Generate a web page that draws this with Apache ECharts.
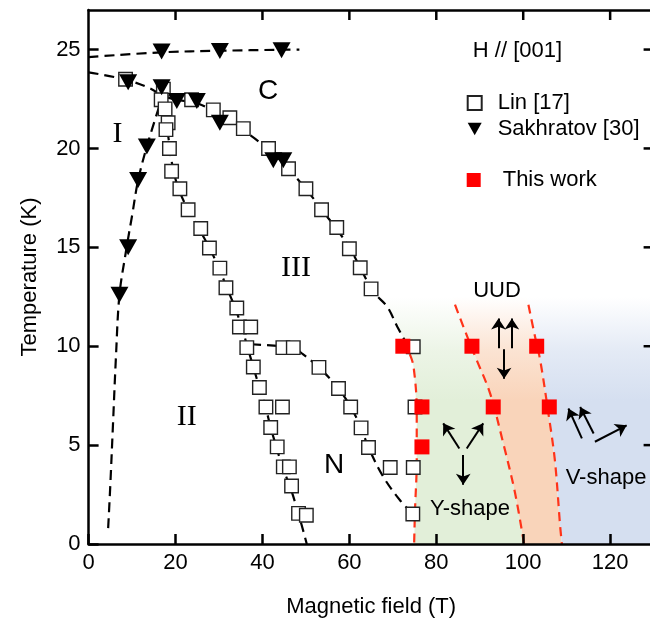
<!DOCTYPE html>
<html>
<head>
<meta charset="utf-8">
<script src="https://cdn.jsdelivr.net/npm/echarts@6/dist/echarts.min.js"></script>
<style>html,body{margin:0;padding:0;background:#fff;}#c{width:650px;height:625px;}</style>
</head>
<body>
<div id="c"></div>
<script>
// ---- data: [field (T), temperature (K)] ----
const linPoints = [
  [8.5,23.5],[17.2,23.0],[16.7,22.46],[23.7,22.46],[17.6,22.0],[28.7,21.95],[18.3,21.3],[32.5,21.55],
  [17.8,20.95],[35.6,21.0],[18.6,20.0],[41.4,20.0],[19.1,18.85],[46.0,18.97],[21.0,17.96],[50.0,17.96],
  [22.9,16.9],[53.6,16.9],[25.8,15.95],[57.1,16.0],[27.8,14.97],[60.0,14.93],[30.2,13.95],[62.5,13.97],
  [31.6,12.96],[65.0,12.9],[34.1,11.93],[34.7,10.97],[37.3,10.97],[36.4,9.93],[44.7,9.93],[47.1,9.93],
  [74.7,9.97],[37.9,8.95],[53.0,8.93],[39.3,7.91],[57.5,7.86],[40.8,6.93],[44.6,6.93],[60.3,6.93],
  [75.1,6.93],[41.9,5.89],[62.7,5.87],[43.4,4.91],[64.4,4.88],[44.8,3.9],[46.2,3.9],[69.4,3.87],
  [74.7,3.87],[46.7,2.93],[48.3,1.55],[50.1,1.45],[74.6,1.52]
];
const sakhratovPoints = [
  [16.8,24.9],[30.2,24.93],[44.4,24.97],
  [9.1,23.35],[16.8,23.1],[20.3,22.4],[24.9,22.4],[30.2,21.3],
  [13.4,20.1],[11.4,18.4],[42.5,19.4],[44.8,19.4],[9.1,15.0],[7.1,12.6]
];
const thisWorkPoints = [
  [72.3,10.0],[88.2,10.0],[103.1,10.0],[76.7,6.93],[93.1,6.93],[106.0,6.93],[76.7,4.91]
];

// ---- mirrored tick values on the top and right frame ----
const topTickValues = [20, 40, 60, 80, 100, 120];
const rightTickValues = [5, 10, 15, 20, 25];

// ---- phase boundaries ----
const lineTop = [[0,24.62],[16.8,24.86],[30.2,24.94],[44.4,24.99],[48.5,25.0]];
const lineCIII = [[0,23.85],[8.5,23.48],[14,23.05],[17.5,22.62],[22,22.4],[26,22.2],[30,21.7],[35,21.0],
  [40,20.2],[45,19.2],[50,17.95],[54,16.8],[57.5,15.8],[60.5,14.8],[63,13.75],[65.5,12.75],[68.7,12.0],[71,11.0],[73.5,10.0]];
const lineI = [[4.5,0.8],[5.0,3.0],[5.6,6.0],[6.3,9.5],[7.1,12.6],[8.6,14.8],[10.0,16.6],[11.4,18.4],[13.4,20.1],[16.5,22.3]];
const lineII = [[16.7,22.5],[17.6,21.8],[18.4,20.5],[19.4,19.0],[20.8,17.9],[22.9,16.9],[25.5,15.9],[27.8,14.97],
  [30.0,13.95],[31.8,12.96],[33.6,12.0],[35.2,11.0],[36.5,10.0],[37.9,8.95],[39.3,7.91],[40.7,6.93],[41.9,5.89],
  [43.2,4.91],[44.6,3.9],[46.3,2.93],[48.2,1.6],[50.2,0.0]];
const lineN = [[37.4,10.1],[44.7,10.0],[47.1,9.93],[49.3,9.6],[53,8.93],[57.5,7.86],[60.3,6.93],[62.7,5.87],
  [64.4,4.88],[67.8,3.4],[71.7,2.2],[74.6,1.52]];
const redLine1 = [[73.9,9.6],[74.75,9.0],[75.5,6.8],[75.5,4.2],[75.1,1.7],[74.9,0]];
const redLine2 = [[84.3,12.1],[87.8,10.1],[89.3,9.3],[92.4,7.6],[95.4,5.1],[98.1,2.6],[100.2,0]];
const redLine3 = [[101.2,12.1],[102.7,10.5],[103.9,9.3],[105.8,6.6],[107.3,4.2],[108.5,0.9],[108.9,0]];

// ---- shaded phase regions ----
const yShapeRegion = [[67,12.5],[68.7,12.0],[71,11.0],[73.5,10.0],[74.75,9.0],[75.5,6.8],[75.5,4.2],[75.1,1.7],[74.9,0],
  [100.2,0],[98.1,2.6],[95.4,5.1],[92.4,7.6],[89.3,9.3],[87.8,10.1],[84.3,12.1],[83.6,12.5]];
const uudRegion = [[83.6,12.5],[84.3,12.1],[87.8,10.1],[89.3,9.3],[92.4,7.6],[95.4,5.1],[98.1,2.6],[100.2,0],
  [108.9,0],[108.5,0.9],[107.3,4.2],[105.8,6.6],[103.9,9.3],[102.7,10.5],[101.2,12.1],[100.9,12.5]];
const vShapeRegion = [[100.9,12.5],[101.2,12.1],[102.7,10.5],[103.9,9.3],[105.8,6.6],[107.3,4.2],[108.5,0.9],[108.9,0],
  [130,0],[130,12.5]];

// ---- spin arrows [from, to] ----
const spinArrows = [
  [[85.3,4.83],[81.6,6.1]],[[87.0,4.83],[90.8,6.1]],[[86.2,4.5],[86.2,3.0]],
  [[94.3,9.9],[94.3,11.4]],[[97.4,9.9],[97.4,11.4]],[[95.6,9.85],[95.6,8.35]],
  [[113.5,5.34],[110.4,6.85]],[[116.2,5.59],[113.1,6.93]],[[116.5,5.17],[123.8,6.0]]
];

const X_MAX = 130, Y_MAX = 27;
const SANS = 'Liberation Sans, Arial, sans-serif';
const SERIF = 'Liberation Serif, Times New Roman, serif';

const chart = echarts.init(document.getElementById('c'), null, {renderer:'canvas'});

function region(pts, r, g, b) {
  return {
    type:'custom', coordinateSystem:'cartesian2d', z:1, silent:true,
    data:[[0,0]],
    renderItem: function(params, api) {
      return {
        type:'polygon',
        shape:{points: pts.map(p => api.coord(p))},
        style:{fill: new echarts.graphic.LinearGradient(0,0,0,1,[
          {offset:0, color:`rgba(${r},${g},${b},0)`},
          {offset:0.22, color:`rgba(${r},${g},${b},0.65)`},
          {offset:0.42, color:`rgba(${r},${g},${b},1)`},
          {offset:1, color:`rgba(${r},${g},${b},1)`}
        ])}
      };
    }
  };
}
function dashed(data, color, dash) {
  return {type:'line', data:data, smooth:0.35, symbol:'none', z:3, silent:true,
    lineStyle:{color:color, width:2.2, type:dash}};
}

function axisLine() { return {show:true, onZero:false, lineStyle:{color:'#000', width:2.5}}; }
function axisTick() { return {show:true, inside:true, length:10, lineStyle:{color:'#000', width:2.5}}; }

chart.setOption({
  animation:false,
  backgroundColor:'#fff',
  grid:{left:88.6, top:10, width:565, height:534, containLabel:false, outerBoundsMode:'none'},
  xAxis:[
    {type:'value', min:0, max:X_MAX, interval:20, position:'bottom', z:10,
     axisLine:axisLine(), axisTick:axisTick(), splitLine:{show:false},
     axisLabel:{color:'#000', fontSize:22, fontFamily:SANS, margin:8, showMaxLabel:false},
     name:'Magnetic field (T)', nameLocation:'middle', nameGap:52,
     nameTextStyle:{color:'#000', fontSize:22, fontFamily:SANS}},
    {type:'value', min:0, max:X_MAX, interval:20, position:'top', z:10,
     axisLine:axisLine(), axisTick:{show:false}, splitLine:{show:false}, axisLabel:{show:false}}
  ],
  yAxis:[
    {type:'value', min:0, max:Y_MAX, interval:5, position:'left', z:10,
     axisLine:axisLine(), axisTick:axisTick(), splitLine:{show:false},
     axisLabel:{color:'#000', fontSize:22, fontFamily:SANS, margin:8, showMaxLabel:false},
     name:'Temperature (K)', nameLocation:'middle', nameGap:48, nameRotate:90,
     nameTextStyle:{color:'#000', fontSize:22, fontFamily:SANS}},
    {type:'value', min:0, max:Y_MAX, interval:5, position:'right', z:10,
     axisLine:axisLine(), axisTick:{show:false}, splitLine:{show:false}, axisLabel:{show:false}}
  ],
  legend:[
    {orient:'vertical', left:461.7, top:87, itemWidth:14, itemHeight:14, itemGap:4, symbolRotate:0,
     textStyle:{fontSize:22, fontFamily:SANS, color:'#000', lineHeight:22, padding:[0,0,0,11]},
     data:[{name:'Lin [17]', icon:'rect'}, {name:'Sakhratov [30]', icon:'path://M0,0L20,0L10,18Z'}]},
    {orient:'vertical', left:461.7, top:164, itemWidth:14, itemHeight:14, symbolRotate:0,
     textStyle:{fontSize:22, fontFamily:SANS, color:'#000', lineHeight:22, padding:[0,0,0,17]},
     data:[{name:'This work', icon:'rect'}]}
  ],
  series:[
    region(yShapeRegion, 226,239,217),
    region(uudRegion, 249,212,186),
    region(vShapeRegion, 213,223,240),
    dashed(lineTop, '#000', [10,6]),
    dashed(lineCIII, '#000', [10,6]),
    dashed(lineI, '#000', [10,6]),
    dashed(lineII, '#000', [10,6]),
    dashed(lineN, '#000', [10,6]),
    dashed(redLine1, '#ff3319', [9,6]),
    dashed(redLine2, '#ff3319', [9,6]),
    dashed(redLine3, '#ff3319', [9,6]),
    {type:'lines', coordinateSystem:'cartesian2d', z:4, silent:true, symbol:['none','arrow'], symbolSize:11,
     lineStyle:{color:'#000', width:2, opacity:1, curveness:0},
     data: spinArrows.map(a => ({coords:a}))},
    {name:'Lin [17]', type:'scatter', z:5, data:linPoints, symbol:'rect', symbolSize:13.5,
     itemStyle:{color:'#fff', borderColor:'#222', borderWidth:1.4, opacity:1}},
    {name:'Sakhratov [30]', type:'scatter', z:6, data:sakhratovPoints, symbol:'triangle', symbolRotate:180,
     symbolSize:[18,16], itemStyle:{color:'#000', opacity:1}},
    {name:'This work', type:'scatter', z:7, data:thisWorkPoints, symbol:'rect', symbolSize:15,
     itemStyle:{color:'#ff0000', opacity:1}},
    // mirrored inward ticks on the top frame (placed through the axis scales)
    {type:'scatter', z:9, silent:true, clip:false, symbol:'rect', symbolSize:[2.5,10], symbolOffset:[0,5],
     itemStyle:{color:'#000', opacity:1},
     data: topTickValues.map(v => [v, Y_MAX])},
    // mirrored inward ticks on the right frame
    {type:'scatter', z:9, silent:true, clip:false, symbol:'rect', symbolSize:[10,2.5], symbolOffset:[-5,0],
     itemStyle:{color:'#000', opacity:1},
     data: rightTickValues.map(v => [X_MAX, v])}
  ],
  graphic:[
    {type:'text', x:517.5, y:50.5, z:10, style:{text:'H // [001]', font:'22px '+SANS, fill:'#000', textAlign:'center', textVerticalAlign:'middle'}},
    {type:'text', x:268, y:91, z:10, style:{text:'C', font:'28px '+SANS, fill:'#000', textAlign:'center', textVerticalAlign:'middle'}},
    {type:'text', x:117.5, y:134, z:10, style:{text:'I', font:'30px '+SERIF, fill:'#000', textAlign:'center', textVerticalAlign:'middle'}},
    {type:'text', x:296, y:268.5, z:10, style:{text:'III', font:'30px '+SERIF, fill:'#000', textAlign:'center', textVerticalAlign:'middle'}},
    {type:'text', x:186.7, y:416.7, z:10, style:{text:'II', font:'30px '+SERIF, fill:'#000', textAlign:'center', textVerticalAlign:'middle'}},
    {type:'text', x:334, y:465, z:10, style:{text:'N', font:'28px '+SANS, fill:'#000', textAlign:'center', textVerticalAlign:'middle'}},
    {type:'text', x:497, y:290.5, z:10, style:{text:'UUD', font:'22px '+SANS, fill:'#000', textAlign:'center', textVerticalAlign:'middle'}},
    {type:'text', x:470, y:509, z:10, style:{text:'Y-shape', font:'22px '+SANS, fill:'#000', textAlign:'center', textVerticalAlign:'middle'}},
    {type:'text', x:606, y:478, z:10, style:{text:'V-shape', font:'22px '+SANS, fill:'#000', textAlign:'center', textVerticalAlign:'middle'}}
  ]
});
</script>
</body>
</html>
